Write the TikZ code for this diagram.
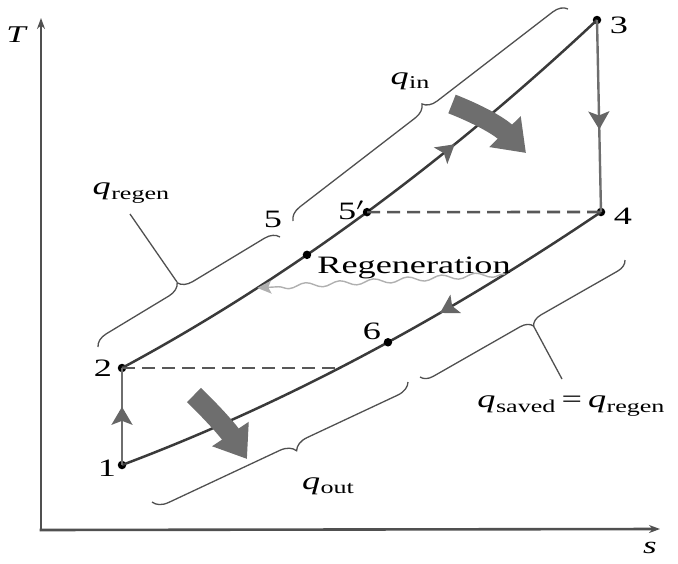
\documentclass[tikz,border=0pt]{standalone}
\usepackage{fontspec}
\setmainfont{Liberation Serif}
\usepackage{graphicx}
\usetikzlibrary{decorations.pathreplacing,decorations.pathmorphing,decorations.markings,arrows.meta}
\definecolor{curvec}{HTML}{3A3A3A}
\definecolor{vlinec}{HTML}{6E6E6E}
\definecolor{arrc}{HTML}{666666}
\definecolor{fatc}{HTML}{6E6E6E}
\definecolor{brcc}{HTML}{505050}
\definecolor{wavec}{HTML}{B0B0B0}
\definecolor{axisc}{HTML}{505050}
\newcommand{\hstr}[1]{\scalebox{1.45}[1]{#1}}
\newcommand{\qlab}[1]{\textit{q}\kern0.3pt\raisebox{-4.5pt}{\fontsize{18}{18}\selectfont #1}}
\tikzset{
  curve/.style={line width=2.5pt, draw=curvec},
  vline/.style={line width=2.4pt, draw=vlinec},
  dashline/.style={line width=2.6pt, draw=curvec!85, dash pattern=on 13pt off 7pt},
  axisline/.style={line width=2.6pt, draw=axisc, -{Stealth[length=11pt,width=8pt]}},
  dot/.style={circle, fill=black, inner sep=0pt, minimum size=8.5pt},
  lbl/.style={inner sep=0pt, font=\fontsize{25}{25}\selectfont},
  fatarrow/.style={draw=fatc, line width=20pt, -{Triangle[length=30pt,width=42pt]}},
  brc/.style={draw=brcc, line width=1.3pt},
  wave/.style={draw=wavec, line width=1.4pt, decorate,
    decoration={snake, amplitude=2.5pt, segment length=34pt, pre length=2pt, post length=14pt},
    -{Stealth[length=14pt,width=13pt,inset=3pt]}},
  midarrow/.style={postaction={decorate}, decoration={markings,
    mark=at position #1 with {\arrow[color=arrc]{Stealth[length=18pt,width=21pt,inset=4pt]}}}},
  midarrowrev/.style={postaction={decorate}, decoration={markings,
    mark=at position #1 with {\arrowreversed[color=arrc]{Stealth[length=18pt,width=21pt,inset=4pt]}}}}
}
\begin{document}
\begin{tikzpicture}[x=1pt,y=-1pt]
\useasboundingbox (0,0) rectangle (678,563);
% axes
\coordinate (org) at (41,530);
\coordinate (ytop) at (41,18);
\coordinate (xend) at (660,529);
\draw[axisline] ([yshift=-1.3pt]org) -- (ytop);
\draw[axisline] ([xshift=-1.3pt]org) -- (xend);
\node[lbl, font=\fontsize{24}{24}\selectfont\itshape] (lT) at (16,35) {\hstr{T}};
\node[lbl, font=\fontsize{24}{24}\selectfont\itshape] (ls) at (650,548) {\hstr{s}};
% state points
\node[dot] (p1) at (122,465) {};
\node[dot] (p2) at (122,368) {};
\node[dot] (p3) at (597,20) {};
\node[dot] (p4) at (601,212) {};
% upper curve 2 -> 3
\draw[curve, midarrow=0.68] (p2.center) .. controls (280,283) and (439,168) .. (p3.center)
  node[dot, pos=0.3895] (p5) {}
  node[dot, pos=0.5158] (p5p) {}
  node[coordinate, pos=0.285] (wb) {};
% lower curve 1 -> 4
\draw[curve, midarrowrev=0.65] (p1.center) .. controls (282,405) and (441,320) .. (p4.center)
  node[dot, pos=0.5553] (p6) {}
  node[coordinate, pos=0.4447] (d2) {}
  node[coordinate, pos=0.80] (wa) {};
\draw[dashline] (p2.center) -- (p2 -| d2);
\draw[dashline] (p5p.center) -- (p4.center);
% vertical processes
\draw[vline, midarrow=0.57] (p3.center) -- (p4.center);
\draw[vline, midarrow=0.6] (p1.center) -- (p2.center);
% point labels
\node[lbl] (l1) at (107,468) {\hstr{1}};
\node[lbl] (l2) at (103,368) {\hstr{2}};
\node[lbl] (l3) at (619,25) {\hstr{3}};
\node[lbl] (l4) at (623,216) {\hstr{4}};
\node[lbl] (l5) at (273,219) {\hstr{5}};
\node[lbl] (l5p) at (351,210) {\hstr{5$'$}};
\node[lbl] (l6) at (372,331) {\hstr{6}};
% regeneration
\node[lbl] (lreg) at (414,268) {\hstr{Regeneration}};
\draw[wave] (wa) -- (wb);
% fat heat arrows
\coordinate (fa1) at (452,104);
\coordinate (fa2) at (526,153);
\draw[fatarrow] (fa1) to[bend left=12] (fa2);
\coordinate (fb1) at (194,395);
\coordinate (fb2) at (247,459);
\draw[fatarrow] (fb1) to[bend left=6] (fb2);
% braces
\coordinate (bi1) at (293,221);
\coordinate (bi2) at (568,9);
\draw[brc, decorate, decoration={brace, amplitude=14pt, aspect=0.5}] (bi1) -- (bi2);
\coordinate (br1) at (98,347);
\coordinate (br2) at (280,237);
\draw[brc, decorate, decoration={brace, amplitude=14pt, aspect=0.475}] (br1) -- (br2);
\coordinate (bs1) at (625,260);
\coordinate (bs2) at (420,377);
\draw[brc, decorate, decoration={brace, amplitude=12pt, aspect=0.475}] (bs1) -- (bs2);
\coordinate (bo1) at (408,382);
\coordinate (bo2) at (152,502);
\draw[brc, decorate, decoration={brace, amplitude=15pt, aspect=0.46}] (bo1) -- (bo2);
% heat labels
\node[lbl] (lin) at (410,81) {\hstr{\qlab{in}}};
\node[lbl] (lout) at (328,486) {\hstr{\qlab{out}}};
\node[lbl] (lregen) at (131,193) {\hstr{\qlab{regen}}};
\node[lbl] (lsaved) at (571,406) {\hstr{\qlab{saved}\,=\,\qlab{regen}}};
% leader lines
\coordinate (tipR) at (177,282);
\coordinate (endR) at (130,214);
\draw[brc] (tipR) -- (endR);
\coordinate (tipS) at (533,325);
\coordinate (endS) at (562,379);
\draw[brc] (tipS) -- (endS);
\end{tikzpicture}
\end{document}
